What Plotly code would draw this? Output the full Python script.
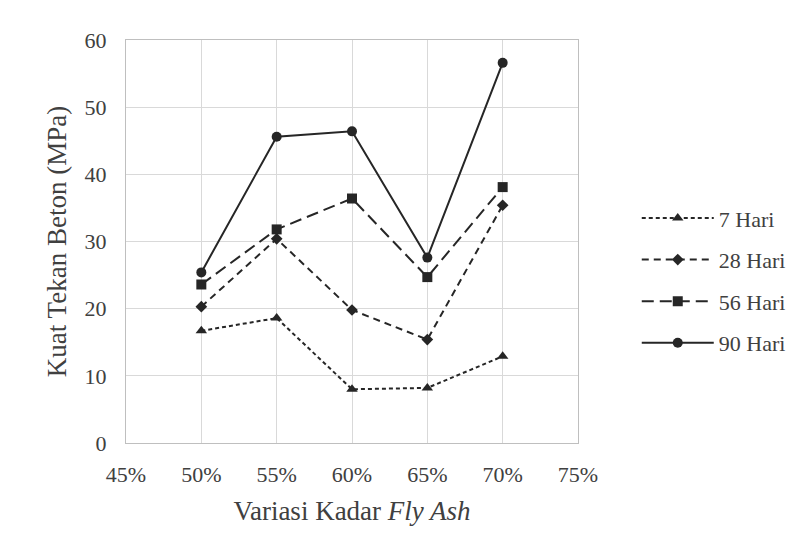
import plotly.graph_objects as go

x_vals = [0.50, 0.55, 0.60, 0.65, 0.70]
series_names = ["7 Hari", "28 Hari", "56 Hari", "90 Hari"]
h7 = [16.7, 18.6, 8.0, 8.2, 12.9]
h28 = [20.3, 30.4, 19.8, 15.4, 35.4]
h56 = [23.6, 31.8, 36.4, 24.7, 38.1]
h90 = [25.4, 45.6, 46.4, 27.6, 56.6]

series = [h7, h28, h56, h90]
dashes = ["4px,3px", "7px,5px", "12px,6px", "solid"]
symbols = ["triangle-up", "diamond", "square", "circle"]
sizes = [10, 9, 10, 10]

FONT = "Liberation Serif"
TXT = "#404040"
fig = go.Figure()
for i, (name, ys) in enumerate(zip(series_names, series)):
    fig.add_trace(go.Scatter(
        x=x_vals, y=ys, name=name, mode="lines+markers",
        line=dict(color="#262626", width=2, dash=dashes[i]),
        marker=dict(symbol=symbols[i], size=sizes[i], color="#262626"),
        legendgroup=name,
    ))

fig.update_layout(
    width=808, height=554,
    margin=dict(l=126, r=230, t=40, b=111),
    paper_bgcolor="white", plot_bgcolor="white",
    font=dict(family=FONT, size=22, color=TXT),
    showlegend=True,
    legend=dict(x=1.13, y=0.61, xanchor="left", yanchor="top",
                font=dict(family=FONT, size=22, color=TXT),
                itemwidth=72,
                tracegroupgap=10, traceorder="grouped",
                bgcolor="rgba(0,0,0,0)"),
    xaxis=dict(range=[0.45, 0.75], dtick=0.05, tick0=0.45, tickformat=".0%",
               showgrid=True, gridcolor="#d9d9d9", gridwidth=1,
               showline=True, linecolor="#bfbfbf", mirror=True, zeroline=False,
               ticks="", ticklabelstandoff=12,
               tickfont=dict(family=FONT, size=22, color=TXT),
               title=dict(text="Variasi Kadar <i>Fly Ash</i>",
                          font=dict(family=FONT, size=27, color=TXT), standoff=14)),
    yaxis=dict(range=[0, 60], dtick=10, showgrid=True, gridcolor="#d9d9d9", gridwidth=1,
               showline=True, linecolor="#bfbfbf", mirror=True, zeroline=False,
               ticks="", ticklabelstandoff=14,
               tickfont=dict(family=FONT, size=22, color=TXT),
               title=dict(text="Kuat Tekan Beton (MPa)",
                          font=dict(family=FONT, size=27, color=TXT), standoff=10)),
)

fig.write_html("out.html")
